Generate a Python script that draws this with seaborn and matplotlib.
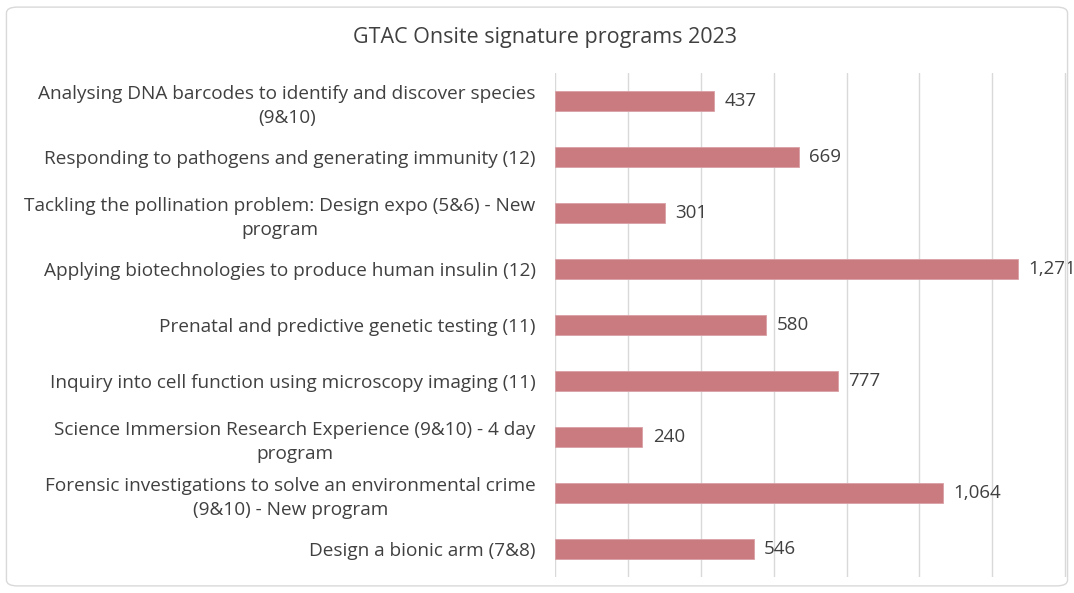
import matplotlib
matplotlib.use("Agg")
import matplotlib.pyplot as plt
import seaborn as sns
import pandas as pd
from matplotlib.patches import FancyBboxPatch

programs = [
    "Analysing DNA barcodes to identify and discover species\n(9&10)",
    "Responding to pathogens and generating immunity (12)",
    "Tackling the pollination problem: Design expo (5&6) - New\nprogram",
    "Applying biotechnologies to produce human insulin (12)",
    "Prenatal and predictive genetic testing (11)",
    "Inquiry into cell function using microscopy imaging (11)",
    "Science Immersion Research Experience (9&10) - 4 day\nprogram",
    "Forensic investigations to solve an environmental crime\n(9&10) - New program",
    "Design a bionic arm (7&8)",
]
participants = [437, 669, 301, 1271, 580, 777, 240, 1064, 546]
value_labels = ["437", "669", "301", "1,271", "580", "777", "240", "1,064", "546"]

sns.set_theme(style="white")
plt.rcParams['font.family'] = ['Open Sans', 'DejaVu Sans']

df = pd.DataFrame({"program": programs, "n": participants})

fig = plt.figure(figsize=(10.74, 5.93), dpi=100)
ax = fig.add_axes([0.5168, 0.027, 0.9935 - 0.5168, 0.877 - 0.027])

sns.barplot(data=df, y="program", x="n", orient="h", color="#c97b80",
            width=0.36, ax=ax, saturation=1, edgecolor="#d9a0a4", linewidth=0.6)

ax.set_xlim(0, 1405)
ax.set_xticks(range(0, 1401, 200))
ax.xaxis.grid(True, color="#d9d9d9", linewidth=1)
ax.set_axisbelow(True)
ax.tick_params(axis="x", length=0, labelbottom=False)
ax.tick_params(axis="y", length=0, pad=14, labelsize=13.7, labelcolor="#404040")
for lab in ax.get_yticklabels():
    lab.set_multialignment("center")
    lab.set_linespacing(1.45)
ax.set_xlabel("")
ax.set_ylabel("")
for s in ax.spines.values():
    s.set_visible(False)

for i, (v, t) in enumerate(zip(participants, value_labels)):
    ax.text(v + 28, i, t, va="center", ha="left", fontsize=13.5, color="#404040",
            clip_on=False)

fig.text(0.507, 0.936, "GTAC Onsite signature programs 2023", ha="center", va="center",
         fontsize=15.5, color="#404040")

border = FancyBboxPatch((0.006, 0.012), 0.988, 0.976, boxstyle="round,pad=0,rounding_size=0.01",
                        transform=fig.transFigure, fill=False, edgecolor="#d9d9d9", linewidth=1)
fig.patches.append(border)

fig.savefig("out.png", dpi=100)
